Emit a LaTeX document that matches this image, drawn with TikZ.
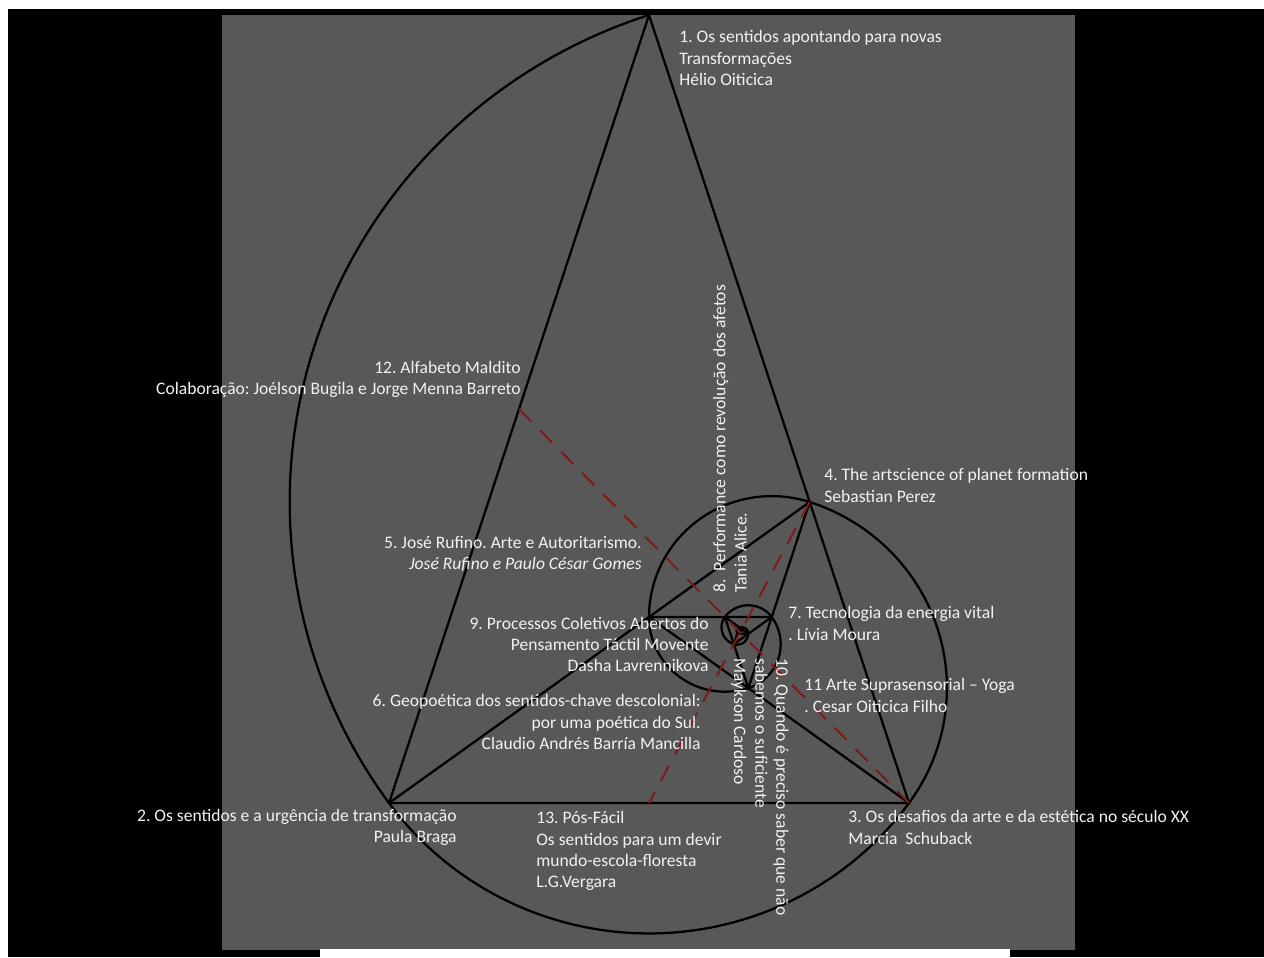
\documentclass[tikz,border=0pt]{standalone}
\usepackage{fontspec}
\setmainfont{Carlito}
\usetikzlibrary{calc}
\frenchspacing

\definecolor{panel}{RGB}{88,88,88}
\definecolor{guidered}{RGB}{128,26,26}
\definecolor{labeltext}{RGB}{242,242,242}

\tikzset{
  spiral/.style={line width=1.3pt, draw=black},
  guide/.style={line width=1.1pt, draw=guidered, dash pattern=on 10pt off 7pt},
  session/.style={text=labeltext, font=\fontsize{10}{12}\selectfont, inner sep=0pt},
}

\begin{document}
\begin{tikzpicture}[x=0.02cm, y=0.02cm]
  \useasboundingbox (0,0) rectangle (1264,957);
  \fill[black] (0,0) rectangle (1264,957);
  \fill[white] (0,948) rectangle (1264,957);
  \fill[white] (0,0) rectangle (8,957);
  \fill[panel] (222,7) rectangle (1075,942);
  \fill[white] (320,0) rectangle (1010,8);

  % golden triangle and its subdivision
  \begin{scope}[shift={(389,154)}, yscale=0.9847]
    \coordinate (p0) at (260,800.25);
    \coordinate (p1) at (0,0);
    \coordinate (p2) at (520,0);
    \foreach \k [evaluate=\k as \i using int(\k-3), evaluate=\k as \j using int(\k-1)] in {3,...,13}
      \coordinate (p\k) at ($(p\j)!0.381966!(p\i)$);

    \draw[spiral] (p0) -- (p1) -- (p2) -- cycle;
    \foreach \k [evaluate=\k as \i using int(\k-2)] in {3,...,13}
      \draw[spiral] (p\i) -- (p\k);
    \foreach \k in {0,...,10}
      \draw[spiral] (p\k) arc[start angle={108*(\k+1)}, delta angle=108, radius={520*0.618034^\k}];

    \coordinate (q1) at (intersection of p2--p7 and p0--p1);
    \coordinate (q2) at (intersection of p3--p8 and p1--p2);
    \draw[guide] (q1) -- (p2);
    \draw[guide] (p3) -- (q2);
  \end{scope}

  % sessions
  \node[session, anchor=west, align=left] (s1) at (679,899)
    {1. Os sentidos apontando para novas\\Transformações\\Hélio Oiticica};
  \node[session, anchor=east, align=right] (s2) at (457,129.5)
    {2. Os sentidos e a urgência de transformação\\Paula Braga};
  \node[session, anchor=west, align=left] (s3) at (848,129.5)
    {3. Os desafios da arte e da estética no século XX\\Marcia\ \ Schuback};
  \node[session, anchor=west, align=left] (s4) at (824,471.5)
    {4. The artscience of planet formation\\Sebastian Perez};
  \node[session, anchor=east, align=right] (s5) at (642,403)
    {5. José Rufino. Arte e Autoritarismo.\\\textit{José Rufino e Paulo César Gomes}};
  \node[session, anchor=east, align=right] (s6) at (701,235)
    {6. Geopoética dos sentidos-chave descolonial:\\por uma poética do Sul.\\Claudio Andrés Barría Mancilla};
  \node[session, anchor=west, align=left] (s7) at (788,333.5)
    {7. Tecnologia da energia vital\\. Lívia Moura};
  \node[session, anchor=west, align=left, rotate=90] (s8) at (730,364)
    {8.\ \ Performance como revolução dos afetos\\Tania Alice.};
  \node[session, anchor=east, align=right] (s9) at (709,312.3)
    {9. Processos Coletivos Abertos do\\Pensamento Táctil Movente\\Dasha Lavrennikova};
  \node[session, anchor=west, align=left, rotate=-90] (s10) at (760,299)
    {10. Quando é preciso saber que não\\sabemos o suficiente\\Maykson Cardoso};
  \node[session, anchor=west, align=left] (s11) at (804,261.5)
    {11 Arte Suprasensorial -- Yoga\\. Cesar Oiticica Filho};
  \node[session, anchor=east, align=right] (s12) at (521,577.5)
    {12. Alfabeto Maldito\\Colaboração: Joélson Bugila e Jorge Menna Barreto};
  \node[session, anchor=west, align=left] (s13) at (536,106)
    {13. Pós-Fácil\\Os sentidos para um devir\\mundo-escola-floresta\\L.G.Vergara};
\end{tikzpicture}
\end{document}
